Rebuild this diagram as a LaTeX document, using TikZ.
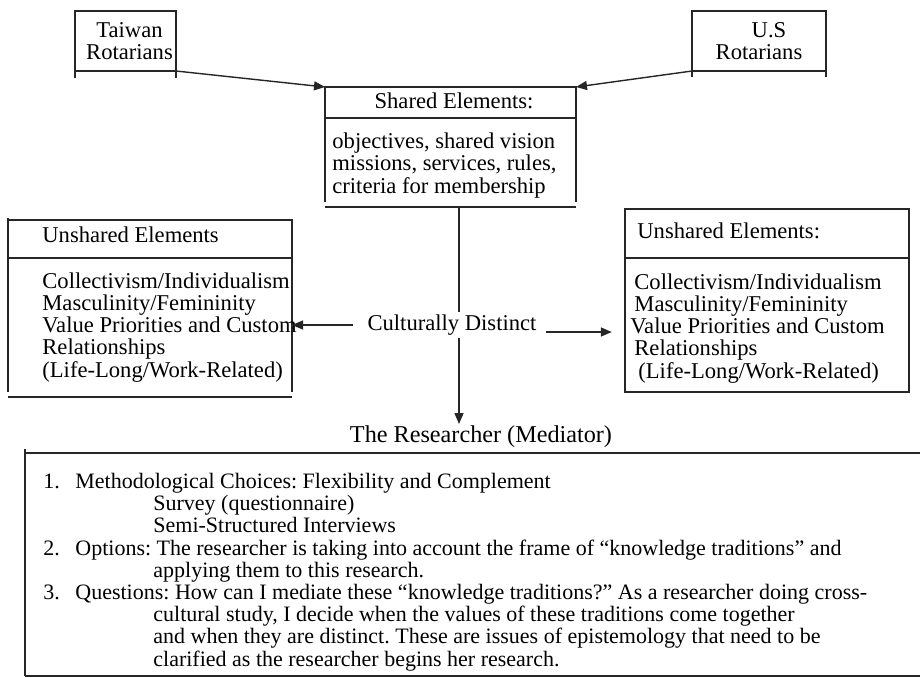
\documentclass[tikz,border=0pt]{standalone}
\usepackage{fontspec}
\setmainfont{Liberation Serif}
\usetikzlibrary{arrows.meta,fit}
\newcommand{\bodyfont}{\frenchspacing\fontsize{11.3pt}{11.1pt}\selectfont}
\newcommand{\notefont}{\frenchspacing\fontsize{11pt}{11.1pt}\selectfont}
\newcommand{\itemno}[1]{\makebox[16pt][l]{#1}}
\newcommand{\subind}{\hspace*{55pt}}

\begin{document}
\begin{tikzpicture}[
  x=0.5pt, y=-0.5pt,
  area/.style={inner sep=0pt, outer sep=0pt},
  rule/.style={line width=0.7pt, draw=black!85},
  txt/.style={inner sep=0pt, align=left, anchor=base west, font=\bodyfont},
  txtc/.style={inner sep=0pt, align=center, font=\bodyfont},
  arrow/.style={-{Triangle[length=5.5pt,width=4.5pt]}, line width=0.7pt, draw=black!85}
]
\useasboundingbox (0,0) rectangle (920,677);

% box areas
\node[area, fit={(75,11) (176,71)}] (taiwan) {};
\node[area, fit={(692,11) (826,71)}] (us) {};
\node[area, fit={(325,87) (576,202)}] (shared) {};
\node[area, fit={(8,220) (292,392)}] (lbox) {};
\node[area, fit={(625,209) (909,392)}] (rbox) {};
\node[area, fit={(25,453) (920,676)}] (mbox) {};

% table rules
\draw[rule] ([yshift=-3.5pt]taiwan.south west) |- (taiwan.north east) -- ([yshift=-3.5pt]taiwan.south east);
\draw[rule] (taiwan.south west) -- (taiwan.south east);
\draw[rule] ([yshift=-3pt]us.south west) |- (us.north east) -- ([yshift=-3pt]us.south east);
\draw[rule] (us.south west) -- (us.south east);

\draw[rule] (shared.south west) |- (shared.north east) -- (shared.south east);
\draw[rule] (shared.west |- 0,118) -- (shared.east |- 0,118);
\draw[rule] ([yshift=-2.5pt]shared.south west) -- ([yshift=-2.5pt]shared.south east);

\draw[rule] ([yshift=1pt]lbox.north west) -- (lbox.south west);
\draw[rule] (lbox.north west) -- (lbox.north east) -- (lbox.south east);
\draw[rule] (lbox.west |- 0,258) -- (lbox.east |- 0,258);
\draw[rule] ([yshift=-2.5pt]lbox.south west) -- ([yshift=-2.5pt]lbox.south east);

\draw[rule] (rbox.north west) rectangle (rbox.south east);
\draw[rule] (rbox.west |- 0,258) -- (rbox.east |- 0,258);

\draw[rule] ([yshift=2pt]mbox.north west) -- (mbox.south west);
\draw[rule] (mbox.north west) -- (mbox.north east);
\draw[rule] (mbox.south west) -- (mbox.south east);

% texts (base = last line)
\node[txtc] (twtxt) at ([xshift=2pt]taiwan.center) {Taiwan\\Rotarians};
\node[txtc] (ustxt) at (us.center) {\hspace*{10pt}U.S\\Rotarians};

\node[txtc] (shhead) at (454,101) {Shared Elements:};
\node[txt] (shbody) at (332,193) {objectives, shared vision\\missions, services, rules,\\criteria for membership};

\node[txt] (lhead) at (42,242) {Unshared Elements};
\node[txt] (lbody) at (42,377) {Collectivism/Individualism\\Masculinity/Femininity\\Value Priorities and Custom\\Relationships\\(Life-Long/Work-Related)};

\node[txt] (rhead) at (637,238) {Unshared Elements:};
\node[txt] (rbody) at (630,378) {\hspace*{2pt}Collectivism/Individualism\\\hspace*{2pt}Masculinity/Femininity\\Value Priorities and Custom\\\hspace*{2pt}Relationships\\\hspace*{4pt}(Life-Long/Work-Related)};

\node[txtc, inner sep=1pt] (cd) at (452,325) {Culturally Distinct};
\node[txtc, outer sep=1pt, font=\fontsize{12.1pt}{13pt}\selectfont] (res) at (481,437) {The Researcher (Mediator)};

\node[txt, font=\notefont] (mbody) at (43,666) {%
\itemno{1.}Methodological Choices: Flexibility and Complement\\
\subind Survey (questionnaire)\\
\subind Semi-Structured Interviews\\
\itemno{2.}Options: The researcher is taking into account the frame of “knowledge traditions” and\\
\subind applying them to this research.\\
\itemno{3.}Questions: How can I mediate these “knowledge traditions?” As a researcher doing cross-\\
\subind cultural study, I decide when the values of these traditions come together\\
\subind and when they are distinct. These are issues of epistemology that need to be\\
\subind clarified as the researcher begins her research.};

% connectors
\coordinate (spine) at (459,207);
\draw[arrow] (taiwan.south east) -- (shared.north west);
\draw[arrow] (us.south west) -- (shared.north east);
\draw[rule] (spine) -- (spine |- cd.north);
\draw[arrow] (spine |- cd.south) -- (spine |- res.north);
\draw[arrow] ([xshift=-6pt]cd.west) -- (cd.west -| lbox.east);
\draw[arrow] (cd.east) ++(3.5pt,-3.5pt) -- ++(33pt,0);
\end{tikzpicture}
\end{document}
